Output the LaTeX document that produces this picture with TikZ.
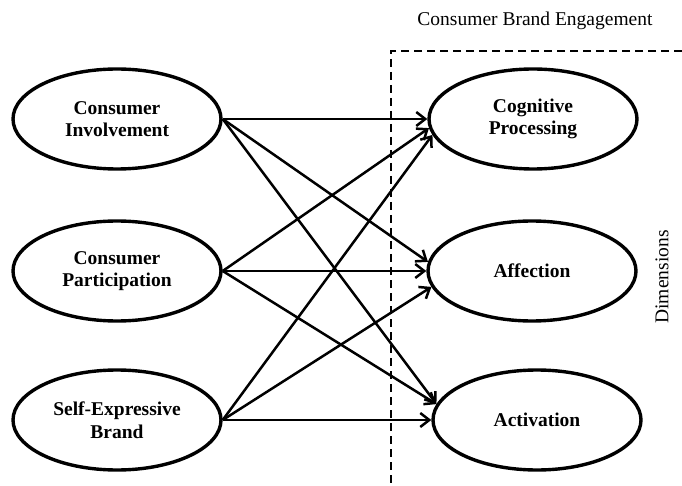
\documentclass[tikz,border=0pt]{standalone}
\usepackage{fontspec}
\setmainfont{Liberation Serif}
\usetikzlibrary{shapes.geometric,arrows.meta}
\begin{document}
\begin{tikzpicture}[x=1pt,y=-1pt,
  construct/.style={ellipse,draw,line width=3.4pt,minimum width=208pt,minimum height=100pt,
    inner sep=0pt,align=center,font=\fontsize{19.5}{22.5}\selectfont\bfseries},
  path/.style={line width=2.5pt,-{Straight Barb[length=9pt,width=14pt,line width=2.5pt]}},
  boundary/.style={line width=2.5pt,dash pattern=on 8pt off 5pt},
  caption/.style={font=\fontsize{19.5}{23}\selectfont}]
\useasboundingbox (0,0) rectangle (682,486);

% antecedents
\node[construct] (ci)  at (117,119) {Consumer\\Involvement};
\node[construct] (cp)  at (117,271) {Consumer\\Participation};
\node[construct] (seb) at (117,420) {Self-Expressive\\Brand};

% engagement dimensions
\node[construct] (cog) at (533,119) {Cognitive\\Processing};
\node[construct] (aff) at (532,271) {Affection};
\node[construct] (act) at (537,420) {Activation};

% dashed boundary of the engagement construct
\coordinate (bTop) at (391,51);
\coordinate (bRight) at (682,51);
\coordinate (bBottom) at (391,486);
\draw[boundary] (bRight) -- (bTop) -- (bBottom);

\node[caption] (title) at (535,21) {Consumer Brand Engagement};
\node[caption,rotate=90] (dims) at (662,277) {Dimensions};

% paths
\draw[path] (ci.east) -- (cog.west);
\draw[path] (ci.east) -- (aff.175);
\draw[path] (ci.east) -- (act.171);
\draw[path] (cp.east) -- (cog.185);
\draw[path] (cp.east) -- (aff.west);
\draw[path] (cp.east) -- (act.171);
\draw[path] (seb.east) -- (cog.189);
\draw[path] (seb.east) -- (aff.189);
\draw[path] (seb.east) -- (act.west);
\end{tikzpicture}
\end{document}
